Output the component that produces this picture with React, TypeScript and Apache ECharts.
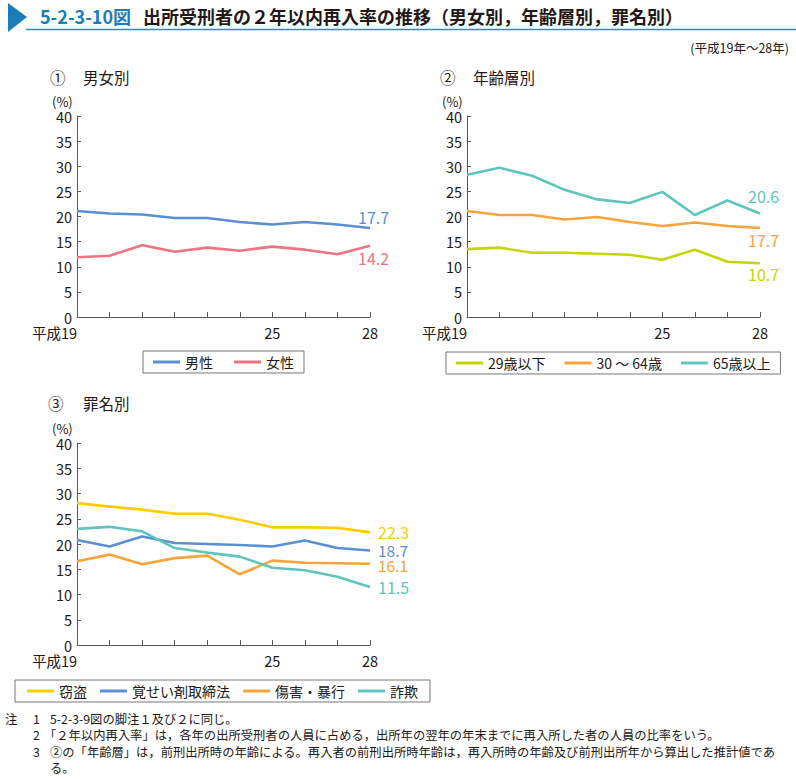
import { useEffect, useRef } from "react";
import * as echarts from "echarts";

// ---- data ----
const years = ["平成19", "20", "21", "22", "23", "24", "25", "26", "27", "28"];
const shownYearIdx = [0, 6, 9];

const male = [21.1, 20.6, 20.4, 19.7, 19.7, 18.9, 18.4, 18.9, 18.4, 17.7];
const female = [11.9, 12.2, 14.3, 13.0, 13.8, 13.2, 14.0, 13.4, 12.5, 14.2];

const age29 = [13.5, 13.8, 12.8, 12.8, 12.6, 12.4, 11.4, 13.4, 11.0, 10.7];
const age30 = [21.1, 20.3, 20.3, 19.4, 19.9, 18.9, 18.1, 18.8, 18.1, 17.7];
const age65 = [28.3, 29.7, 28.1, 25.3, 23.4, 22.7, 24.9, 20.3, 23.2, 20.6];

const theft = [28.1, 27.4, 26.8, 26.0, 26.0, 24.8, 23.3, 23.3, 23.2, 22.3];
const stimulants = [20.8, 19.5, 21.5, 20.2, 20.0, 19.8, 19.5, 20.7, 19.2, 18.7];
const assault = [16.6, 17.9, 16.0, 17.2, 17.7, 14.0, 16.7, 16.3, 16.2, 16.1];
const fraud = [23.0, 23.4, 22.5, 19.2, 18.3, 17.5, 15.3, 14.8, 13.5, 11.5];

const notes = [
  "5-2-3-9図の脚注１及び２に同じ。",
  "「２年以内再入率」は，各年の出所受刑者の人員に占める，出所年の翌年の年末までに再入所した者の人員の比率をいう。",
  "②の「年齢層」は，前刑出所時の年齢による。再入者の前刑出所時年齢は，再入所時の年齢及び前刑出所年から算出した推計値であ",
  "る。",
];

const FONT = "'Noto Sans CJK JP', 'Noto Sans', sans-serif";
const TEXT = "#231815";
const AXIS = "#595757";
const BLUE = "#5b8fd3";
const PINK = "#ee7383";
const LIME = "#c3d600";
const ORANGE = "#f8a43a";
const TEAL = "#5ec4bc";
const YELLOW = "#ffcc00";
const TITLE_BLUE = "#1a7db8";

export default function App() {
  const ref = useRef<HTMLDivElement>(null);

  useEffect(() => {
    document.body.style.margin = "0";
    if (!ref.current) return;
    const chart = echarts.init(ref.current, undefined, { renderer: "svg" });

    const xAx = (gridIndex: number) => ({
      type: "category",
      gridIndex,
      data: years.map((y, i) =>
        i === 0 ? { value: y, textStyle: { align: "right" } } : y
      ),
      boundaryGap: false,
      axisLine: { lineStyle: { color: AXIS, width: 1 } },
      axisTick: { show: true, inside: true, length: 5, interval: 0, lineStyle: { color: AXIS } },
      axisLabel: {
        interval: (i: number) => shownYearIdx.includes(i),
        color: TEXT,
        fontSize: 14.5,
        lineHeight: 14.5,
        margin: 8,
        fontFamily: FONT,
      },
      splitLine: { show: false },
    });

    const yAx = (gridIndex: number) => ({
      type: "value",
      gridIndex,
      min: 0,
      max: 40,
      interval: 5,
      axisLine: { show: true, lineStyle: { color: AXIS, width: 1 } },
      axisTick: { show: true, inside: true, length: 4, lineStyle: { color: AXIS } },
      axisLabel: { color: TEXT, fontSize: 14.5, lineHeight: 13, margin: 5, fontFamily: FONT },
      splitLine: { show: false },
    });

    const line = (
      name: string,
      data: number[],
      color: string,
      idx: number,
      offset: number[],
      fontSize = 16
    ) => ({
      type: "line",
      name,
      data,
      xAxisIndex: idx,
      yAxisIndex: idx,
      showSymbol: false,
      symbol: "none",
      silent: true,
      lineStyle: { width: 2.6, color },
      itemStyle: { color },
      endLabel: {
        show: true,
        formatter: (p: any) => Number(p.value).toFixed(1),
        color,
        fontSize,
        lineHeight: fontSize,
        fontFamily: FONT,
        offset,
      },
    });

    const legendBase = {
      orient: "horizontal",
      borderColor: "#777",
      borderWidth: 1,
      itemWidth: 27,
      itemHeight: 3,
      icon: "rect",
      selectedMode: false,
      textStyle: { color: TEXT, fontSize: 14, fontFamily: FONT },
    };

    const txt = (x: number, y: number, text: string, fontSize: number, extra: any = {}) => ({
      type: "text",
      x,
      y,
      style: {
        text,
        fontSize,
        fontFamily: FONT,
        fill: TEXT,
        textVerticalAlign: "middle",
        verticalAlign: "middle",
        ...extra,
      },
    });

    const graphic: any[] = [
      { type: "polygon", shape: { points: [[8, 3], [27, 17], [8, 32]] }, style: { fill: TITLE_BLUE } },
      { type: "line", shape: { x1: 26, y1: 29.5, x2: 796, y2: 29.5 }, style: { stroke: "#2f8cc4", lineWidth: 1.5 } },
      txt(40, 16, "5-2-3-10図", 18, { fill: TITLE_BLUE, fontWeight: "bold" }),
      txt(143, 16, "出所受刑者の２年以内再入率の推移（男女別，年齢層別，罪名別）", 18, { fontWeight: "bold" }),
      txt(789, 47, "(平成19年～28年)", 12.5, { align: "right", textAlign: "right" }),
      txt(50, 77, "①", 15.5),
      txt(83, 77, "男女別", 15.5),
      txt(440, 77, "②", 15.5),
      txt(473, 77, "年齢層別", 15.5),
      txt(48, 403, "③", 15.5),
      txt(83, 403, "罪名別", 15.5),
      txt(52, 101, "(%)", 13),
      txt(442, 101, "(%)", 13),
      txt(52, 428, "(%)", 13),
      txt(5, 719, "注", 12.3),
      txt(33, 719, "1", 12.3),
      txt(33, 735, "2", 12.3),
      txt(33, 752, "3", 12.3),
      txt(50, 719, notes[0], 12.3),
      txt(44, 735, notes[1], 12.3),
      txt(50, 752, notes[2], 12.3),
      txt(50, 768, notes[3], 12.3),
    ];

    chart.setOption({
      animation: false,
      backgroundColor: "#fff",
      textStyle: { fontFamily: FONT },
      grid: [
        { left: 77, top: 116, width: 293, height: 201 },
        { left: 467, top: 116, width: 293, height: 201 },
        { left: 77, top: 443, width: 293, height: 202 },
      ],
      xAxis: [xAx(0), xAx(1), xAx(2)],
      yAxis: [yAx(0), yAx(1), yAx(2)],
      legend: [
        { ...legendBase, data: ["男性", "女性"], left: 143, top: 351, padding: [4, 10], itemGap: 21 },
        { ...legendBase, data: ["29歳以下", "30 ～ 64歳", "65歳以上"], left: 446, top: 352, padding: [4, 10], itemGap: 19 },
        { ...legendBase, data: ["窃盗", "覚せい剤取締法", "傷害・暴行", "詐欺"], left: 15, top: 680, padding: [4, 12], itemGap: 13 },
      ],
      series: [
        line("男性", male, BLUE, 0, [-20, -11]),
        line("女性", female, PINK, 0, [-20, 12]),
        line("29歳以下", age29, LIME, 1, [-20, 11]),
        line("30 ～ 64歳", age30, ORANGE, 1, [-20, 12]),
        line("65歳以上", age65, TEAL, 1, [-20, -17]),
        line("窃盗", theft, YELLOW, 2, [0, 0]),
        line("覚せい剤取締法", stimulants, BLUE, 2, [0, -1], 15.5),
        line("傷害・暴行", assault, ORANGE, 2, [0, 1.5], 15.5),
        line("詐欺", fraud, TEAL, 2, [0, 0]),
      ],
      graphic,
    });

    return () => chart.dispose();
  }, []);

  return <div ref={ref} style={{ width: 796, height: 779 }} />;
}
